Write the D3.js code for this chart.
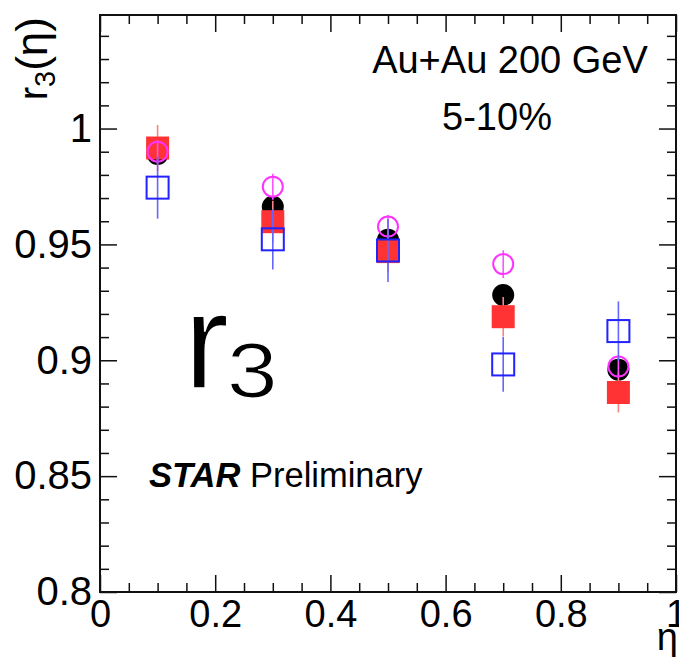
<!DOCTYPE html>
<html>
<head>
<meta charset="utf-8">
<script src="https://cdn.jsdelivr.net/npm/d3@7"></script>
<style>
  html, body { margin: 0; padding: 0; background: #fff; }
  svg { display: block; }
  text { font-family: "Liberation Sans", Arial, Helvetica, sans-serif; fill: #000; }
</style>
</head>
<body>
<svg id="chart" width="679" height="657"></svg>
<script>
// pseudorapidity bin centres
const etaBins = [0.1, 0.3, 0.5, 0.7, 0.9];

// r3(eta) for each marker set, with statistical errors
const filledCircleVals = [0.989, 0.9662, 0.952, 0.9282, 0.8959];
const filledCircleErrs = [0.004, 0.004, 0.004, 0.004, 0.004];
const filledSquareVals = [0.9916, 0.9598, 0.9469, 0.9188, 0.8861];
const filledSquareErrs = [0.0099, 0.009, 0.009, 0.0085, 0.0086];
const openCircleVals = [0.990, 0.9749, 0.9577, 0.9415, 0.8973];
const openCircleErrs = [0.005, 0.0056, 0.005, 0.006, 0.005];
const openSquareVals = [0.9745, 0.9522, 0.9474, 0.8982, 0.9126];
const openSquareErrs = [0.0134, 0.013, 0.0136, 0.0118, 0.0128];

// axis ticks and their labels
const xMajorTicks = [0, 0.2, 0.4, 0.6, 0.8, 1];
const xTickLabels = ["0", "0.2", "0.4", "0.6", "0.8", "1"];
const yMajorTicks = [0.8, 0.85, 0.9, 0.95, 1];
const yTickLabels = ["0.8", "0.85", "0.9", "0.95", "1"];
const xMinorStep = 0.05;
const yMinorStep = 0.01;

const svg = d3.select("#chart");
const padL = 100, padR = 676, padT = 15, padB = 592;

const x = d3.scaleLinear().domain([0, 1]).range([padL, padR]);
const y = d3.scaleLinear().domain([0.8, 1.049]).range([padB, padT]);

const xMinor = d3.range(0, 1.0001, xMinorStep).filter(v => !xMajorTicks.some(m => Math.abs(m - v) < 1e-6));
const yMinor = d3.range(0.8, 1.0491, yMinorStep).filter(v => !yMajorTicks.some(m => Math.abs(m - v) < 1e-6));

const MAJ = 17, MIN = 9;

function styleAxis(g) {
  g.select(".domain").remove();
  g.selectAll(".tick line").attr("stroke", "#111").attr("stroke-width", 1.5);
}
function styleLabels(size) {
  return g => g.selectAll(".tick text").attr("font-size", size)
    .style("font-family", "'Liberation Sans', Arial, sans-serif").attr("fill", "#000");
}

// bottom axis: majors with labels, minors without
svg.append("g").attr("transform", `translate(0,${padB})`)
  .call(d3.axisBottom(x).tickValues(xMajorTicks).tickSize(-MAJ).tickPadding(8)
    .tickFormat((d, i) => xTickLabels[i]))
  .call(styleAxis).call(styleLabels(38));
svg.append("g").attr("transform", `translate(0,${padB})`)
  .call(d3.axisBottom(x).tickValues(xMinor).tickSize(-MIN).tickFormat(""))
  .call(styleAxis);

// top axis ticks
svg.append("g").attr("transform", `translate(0,${padT})`)
  .call(d3.axisTop(x).tickValues(xMajorTicks).tickSize(-MAJ).tickFormat(""))
  .call(styleAxis);
svg.append("g").attr("transform", `translate(0,${padT})`)
  .call(d3.axisTop(x).tickValues(xMinor).tickSize(-MIN).tickFormat(""))
  .call(styleAxis);

// left axis
svg.append("g").attr("transform", `translate(${padL},0)`)
  .call(d3.axisLeft(y).tickValues(yMajorTicks).tickSize(-MAJ).tickPadding(8)
    .tickFormat((d, i) => yTickLabels[i]))
  .call(styleAxis).call(styleLabels(40));
svg.append("g").attr("transform", `translate(${padL},0)`)
  .call(d3.axisLeft(y).tickValues(yMinor).tickSize(-MIN).tickFormat(""))
  .call(styleAxis);

// right axis ticks
svg.append("g").attr("transform", `translate(${padR},0)`)
  .call(d3.axisRight(y).tickValues(yMajorTicks).tickSize(-MAJ).tickFormat(""))
  .call(styleAxis);
svg.append("g").attr("transform", `translate(${padR},0)`)
  .call(d3.axisRight(y).tickValues(yMinor).tickSize(-MIN).tickFormat(""))
  .call(styleAxis);

// frame
svg.append("rect")
  .attr("x", padL).attr("y", padT)
  .attr("width", padR - padL).attr("height", padB - padT)
  .attr("fill", "none").attr("stroke", "#111").attr("stroke-width", 2);

// data series
const R = 11, S = 23;
function drawSeries(vals, errs, opts) {
  const pts = etaBins.map((e, i) => ({ e, v: vals[i], err: errs[i] }));
  const g = svg.append("g");
  g.selectAll("line.err").data(pts).join("line")
    .attr("class", "err")
    .attr("x1", d => x(d.e)).attr("x2", d => x(d.e))
    .attr("y1", d => y(d.v + d.err)).attr("y2", d => y(d.v - d.err))
    .attr("stroke", opts.errColor).attr("stroke-width", 1.6);
  if (opts.shape === "circle") {
    g.selectAll("circle").data(pts).join("circle")
      .attr("cx", d => x(d.e)).attr("cy", d => y(d.v)).attr("r", opts.filled ? R : R - 1)
      .attr("fill", opts.filled ? opts.color : "none")
      .attr("stroke", opts.filled ? "none" : opts.color)
      .attr("stroke-width", 2);
  } else {
    const s = opts.filled ? S : S - 1;
    g.selectAll("rect").data(pts).join("rect")
      .attr("x", d => x(d.e) - s / 2).attr("y", d => y(d.v) - s / 2)
      .attr("width", s).attr("height", s)
      .attr("fill", opts.filled ? opts.color : "none")
      .attr("stroke", opts.filled ? "none" : opts.color)
      .attr("stroke-width", 2);
  }
}

drawSeries(filledCircleVals, filledCircleErrs, { shape: "circle", filled: true, color: "#000", errColor: "#000" });
drawSeries(filledSquareVals, filledSquareErrs, { shape: "square", filled: true, color: "#ff3333", errColor: "#ff8080" });
drawSeries(openCircleVals, openCircleErrs, { shape: "circle", filled: false, color: "#ff33ff", errColor: "#ff55ff" });
drawSeries(openSquareVals, openSquareErrs, { shape: "square", filled: false, color: "#2222ff", errColor: "#6666ff" });

// axis titles
const yTitle = svg.append("text")
  .attr("transform", `translate(47,${padT + 2}) rotate(-90)`)
  .attr("text-anchor", "end").attr("font-size", 40);
yTitle.append("tspan").text("r");
yTitle.append("tspan").attr("font-size", 29).attr("dy", 8).text("3");
yTitle.append("tspan").attr("dy", -8).attr("font-size", 44).text("(η)");

svg.append("text").attr("x", 678).attr("y", 650)
  .attr("text-anchor", "end").attr("font-size", 38).text("η");

// annotations
svg.append("text").attr("x", 510).attr("y", 73)
  .attr("text-anchor", "middle").attr("font-size", 38).text("Au+Au 200 GeV");
svg.append("text").attr("x", 497).attr("y", 130)
  .attr("text-anchor", "middle").attr("font-size", 38).text("5-10%");

// large r3 label, outlined in white to give a lighter stroke
const bigR = svg.append("text").attr("x", 184).attr("y", 388).attr("font-size", 135)
  .attr("stroke", "#fff").attr("stroke-width", 1.5).text("r");
svg.append("text").attr("transform", "translate(227,397) scale(1.18,1)")
  .attr("font-size", 77).attr("stroke", "#fff").attr("stroke-width", 1.2).text("3");

const star = svg.append("text").attr("x", 149).attr("y", 487).attr("font-size", 34.5);
star.append("tspan").attr("font-weight", "bold").attr("font-style", "italic").text("STAR");
star.append("tspan").text(" Preliminary");
</script>
</body>
</html>
